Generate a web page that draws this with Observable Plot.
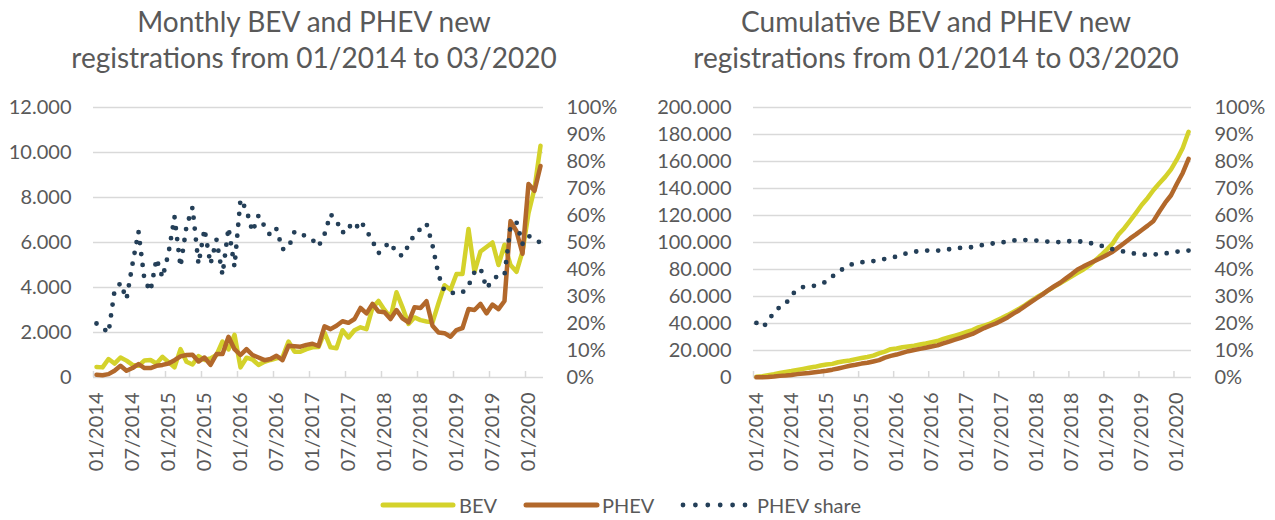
<!DOCTYPE html>
<html>
<head>
<meta charset="utf-8">
<script src="https://cdn.jsdelivr.net/npm/d3@7"></script>
<script src="https://cdn.jsdelivr.net/npm/@observablehq/plot@0.6"></script>
<style>
  html, body { margin: 0; padding: 0; background: #fff; }
  #root { position: relative; width: 1275px; height: 520px; overflow: hidden; font-family: Lato, sans-serif; color: #595959; }
  .title { position: absolute; top: 3px; font-size: 28px; line-height: 36px; text-align: center; white-space: nowrap; }
  .layer { position: absolute; }
  .leg { position: absolute; top: 493px; font-size: 20px; line-height: 24px; white-space: nowrap; }
  .sw { position: absolute; top: 495px; }
</style>
</head>
<body>
<div id="root">
  <div class="title" style="left:14px; width:600px;">Monthly BEV and PHEV new<br>registrations from 01/2014 to 03/2020</div>
  <div class="title" style="left:636px; width:600px;">Cumulative BEV and PHEV new<br>registrations from 01/2014 to 03/2020</div>
  <div id="left" class="layer" style="left:0; top:90px;"></div>
  <div id="leftShare" class="layer" style="left:0; top:90px;"></div>
  <div id="right" class="layer" style="left:640px; top:90px;"></div>
  <div id="rightShare" class="layer" style="left:640px; top:90px;"></div>
  <div id="legend"></div>
</div>
<script>
// ---- data ----
const tickLabels = ["01/2014","07/2014","01/2015","07/2015","01/2016","07/2016","01/2017","07/2017","01/2018","07/2018","01/2019","07/2019","01/2020"];
const tickIdx = [0,6,12,18,24,30,36,42,48,54,60,66,72];
const tickBounds = [-0.5,5.5,11.5,17.5,23.5,29.5,35.5,41.5,47.5,53.5,59.5,65.5,71.5];

const monthlyTicks = [0,2000,4000,6000,8000,10000,12000];
const cumulativeTicks = [0,20000,40000,60000,80000,100000,120000,140000,160000,180000,200000];
const shareTicks = [0,10,20,30,40,50,60,70,80,90,100];

const bevMonthly = [
  470,450,820,620,890,750,560,520,760,780,620,920,
  680,450,1260,700,580,950,780,850,1000,1600,1250,1900,
  450,880,800,560,700,780,850,900,1600,1150,1150,1260,
  1340,1350,2000,1340,1300,2100,1780,2100,2230,2150,3100,3400,
  3000,2670,3790,3120,2380,2670,2550,2490,2450,3300,4100,3900,
  4600,4600,6600,4700,5600,5800,6000,5000,5900,5000,4700,5600,
  7300,8400,10300];
const phevMonthly = [
  120,100,150,300,520,300,420,600,420,420,520,560,
  620,770,940,1000,1010,710,890,560,1040,1040,1810,1260,
  1000,1260,1000,890,770,820,970,770,1410,1390,1370,1450,
  1500,1400,2270,2150,2300,2500,2430,2600,3090,2850,3270,2930,
  2900,2600,3000,2630,2450,3120,3090,3390,2300,2000,1970,1810,
  2110,2200,3040,3000,3270,2850,3240,3040,3400,6950,6500,5500,
  8600,8300,9400];
const shareMonthly = [
  20,18.5,16.5,32,35,29,42,54,36,32,44,37,
  46,59.5,41,56,63,42,55,42,51,38,55.5,41,
  66,62,54,60,56,52.5,55,47.5,48,54,53.5,52,
  51,48.5,53,60.5,58,53.5,56.5,54.5,58,54.5,50.5,46,
  48.5,50,46,45,49,53,55,57,49,38,32,31.5,
  31,31.5,34,39,40.5,33,36,38,38,56,57.5,49.5,
  52.5,51,50];

const bevCumulative = [
  500,900,1700,2400,3300,4100,4800,5600,6400,7200,7900,8900,
  9600,10100,11300,12000,12600,13600,14400,15200,16200,17900,19200,21000,
  21500,22400,23000,23600,24400,25200,26100,27000,28600,29800,31000,32300,
  33700,35100,37100,38500,39800,42000,44000,46200,48600,51000,53600,56600,
  59400,61800,64500,67300,69800,72400,75000,77500,80000,83000,86800,90500,
  94700,99300,105900,110600,116200,122000,128000,133000,138900,143900,148600,154200,
  161500,170000,182000];
const phevCumulative = [
  100,200,400,700,1200,1500,1900,2500,2900,3300,3900,4400,
  5000,5800,6700,7700,8700,9400,10300,10900,11900,12900,14700,16000,
  17000,18300,19500,20400,21200,22000,23000,23800,25200,26600,28000,29400,
  30900,32300,34500,36600,38400,40000,42200,44500,47300,49800,52900,55800,
  58700,61600,64800,67600,70200,73400,76600,80000,82300,84400,86500,88500,
  90800,93200,96400,99600,103000,106000,109300,112500,116000,123000,129500,135000,
  143500,151500,162000];
const shareCumulative = [
  20.2,18.6,20.5,24.5,26,27.2,30.5,32.5,33.5,33.7,34,34.7,
  35.5,37.4,39,40.5,41.7,42.3,42.7,42.9,43.1,43.6,43.9,44.3,
  44.8,45.5,46.2,46.6,46.8,47.0,47.0,47.0,47.2,47.5,47.8,48.0,
  48.1,48.3,48.7,49.2,49.5,49.8,50.0,50.4,50.7,51.0,50.9,50.8,
  50.7,50.5,50.3,50.1,50.2,50.4,50.5,50.5,50.2,49.9,49.3,48.8,
  48.2,47.5,47.0,46.6,46.2,45.8,45.6,45.4,45.5,45.8,46.0,46.2,
  46.6,46.8,47.0];

// ---- styling ----
const BEV = "#D4D22B", PHEV = "#B2682B", SHARE = "#243F58", GRID = "#D9D9D9", TEXT = "#595959";
const idx = d3.range(bevMonthly.length);
const fmtDE = d => d.toLocaleString("de-DE");
const baseStyle = {fontFamily: "Lato, sans-serif", fontSize: "20px", color: TEXT, background: "transparent", overflow: "visible"};

function mainPlot({width, marginLeft, marginRight, yMax, yTicks, bev, phev}) {
  return Plot.plot({
    width, height: 400, marginLeft, marginRight, marginTop: 17, marginBottom: 113,
    style: baseStyle,
    x: {domain: [-0.5, 74.5]},
    y: {domain: [0, yMax]},
    marks: [
      Plot.gridY(yTicks, {stroke: GRID, strokeOpacity: 1, strokeWidth: 1.5}),
      Plot.ruleX(tickBounds, {x: d => d, y1: 0, y2: 0, insetTop: -6, stroke: GRID, strokeWidth: 1.5}),
      Plot.axisY(yTicks, {tickSize: 0, tickPadding: 22, tickFormat: fmtDE, fill: TEXT}),
      Plot.axisX(tickIdx, {tickSize: 0, tickRotate: -90, tickPadding: 15, tickFormat: d => tickLabels[tickIdx.indexOf(d)], fill: TEXT}),
      Plot.line(idx, {x: i => i, y: i => bev[i], stroke: BEV, strokeWidth: 4.5}),
      Plot.line(idx, {x: i => i, y: i => phev[i], stroke: PHEV, strokeWidth: 4.5})
    ]
  });
}

function sharePlot({width, marginLeft, marginRight, share}) {
  return Plot.plot({
    width, height: 400, marginLeft, marginRight, marginTop: 17, marginBottom: 113,
    style: baseStyle,
    x: {domain: [-0.5, 74.5], axis: null},
    y: {domain: [0, 100]},
    marks: [
      Plot.axisY(shareTicks, {anchor: "right", tickSize: 0, tickPadding: 23, tickFormat: d => d + "%", fill: TEXT}),
      Plot.line(idx, {x: i => i, y: i => share[i], stroke: SHARE, strokeWidth: 4.8, strokeDasharray: "0 11", strokeLinecap: "round"})
    ]
  });
}

document.getElementById("left").append(mainPlot({width: 640, marginLeft: 93, marginRight: 97, yMax: 12000, yTicks: monthlyTicks, bev: bevMonthly, phev: phevMonthly}));
document.getElementById("leftShare").append(sharePlot({width: 640, marginLeft: 93, marginRight: 97, share: shareMonthly}));
document.getElementById("right").append(mainPlot({width: 635, marginLeft: 113, marginRight: 84, yMax: 200000, yTicks: cumulativeTicks, bev: bevCumulative, phev: phevCumulative}));
document.getElementById("rightShare").append(sharePlot({width: 635, marginLeft: 113, marginRight: 84, share: shareCumulative}));

// ---- legend ----
const legend = document.getElementById("legend");
legend.innerHTML = `
  <svg class="sw" style="left:380px" width="76" height="20"><line x1="3" y1="10" x2="73" y2="10" stroke="${BEV}" stroke-width="5" stroke-linecap="round"/></svg>
  <div class="leg" style="left:459px">BEV</div>
  <svg class="sw" style="left:523px" width="77" height="20"><line x1="3" y1="10" x2="74" y2="10" stroke="${PHEV}" stroke-width="5" stroke-linecap="round"/></svg>
  <div class="leg" style="left:602px">PHEV</div>
  <svg class="sw" style="left:680px" width="70" height="20"><line x1="3" y1="10" x2="66" y2="10" stroke="${SHARE}" stroke-width="4.8" stroke-dasharray="0 12.4" stroke-linecap="round"/></svg>
  <div class="leg" style="left:757px">PHEV share</div>`;
</script>
</body>
</html>
